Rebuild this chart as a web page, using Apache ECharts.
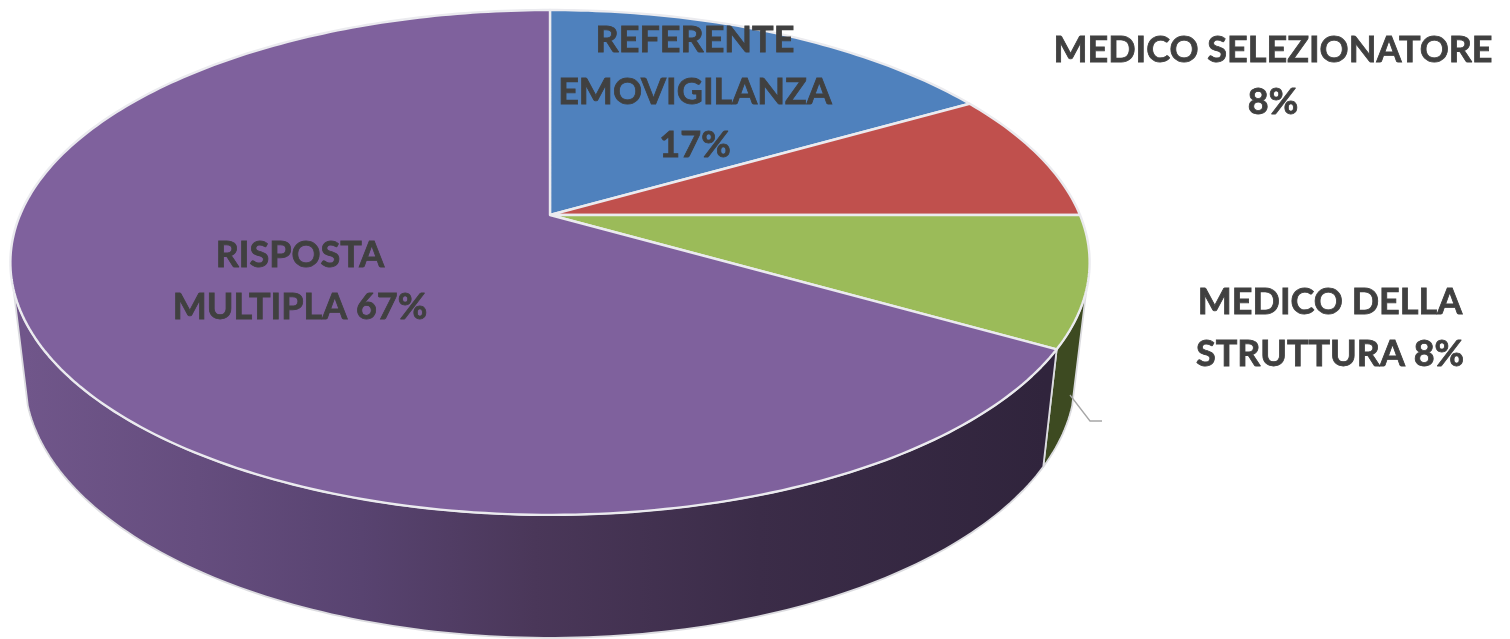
<!DOCTYPE html>
<html><head><meta charset="utf-8">
<style>html,body{margin:0;padding:0;background:#fff}#c{width:1510px;height:639px;filter:blur(0.45px)}</style>
<script src="https://cdn.jsdelivr.net/npm/echarts@6/dist/echarts.min.js"></script>
</head><body><div id="c"></div>
<script>
// Data
const categories = ['REFERENTE EMOVIGILANZA', 'MEDICO SELEZIONATORE', 'MEDICO DELLA STRUTTURA', 'RISPOSTA MULTIPLA'];
const shares = [16.67, 8.33, 8.33, 66.67];
const labelLines = [['REFERENTE', 'EMOVIGILANZA', '17%'], ['MEDICO SELEZIONATORE', '8%'], ['MEDICO DELLA', 'STRUTTURA 8%'], ['RISPOSTA', 'MULTIPLA 67%']];

// Style and layout
const topColors = ['#4f81bd', '#c0504d', '#9bbb59', '#7f619d'];
const labelAnchors = [[695, 40], [1273, 50], [1330, 302], [300, 255]];
const linePitch = 52.5;
const topDisc = {cx: 550, cy: 215, rx: 530, ry: 243.5, k: 0.188};
const lowDisc = {cx: 550, cy: 328, rx: 516, ry: 251.6, k: 0.188};
const wallFrom = 107, wallTo = 253;
const leader = [[1070, 395], [1090, 421], [1102, 421]];

const total = shares.reduce((a, b) => a + b, 0);
function sliceRange(i) {
  let s = 0;
  for (let j = 0; j < i; j++) s += shares[j];
  return [s / total * 360, (s + shares[i]) / total * 360];
}
function project(d, deg) {
  const t = deg * Math.PI / 180, X = Math.sin(t), Y = -Math.cos(t), w = 1 / (1 - d.k * Y);
  return [d.cx + d.rx * X * w, d.cy + d.ry * Y * w];
}
function arc(d, a, b) {
  const n = Math.max(2, Math.ceil(Math.abs(b - a))), pts = [];
  for (let i = 0; i <= n; i++) pts.push(project(d, a + (b - a) * i / n));
  return pts;
}
const wallFill = (i) => i === 2 ? '#3d4a21' : new echarts.graphic.LinearGradient(25, 0, 1045, 0, [
  {offset: 0, color: '#70568a'}, {offset: 0.17, color: '#654d7e'}, {offset: 0.33, color: '#584370'},
  {offset: 0.5, color: '#4a3759'}, {offset: 0.72, color: '#3b2c48'}, {offset: 1, color: '#30243c'}
], true);

function renderWall(params, api) {
  const i = api.value(1), [a, b] = sliceRange(i);
  const s = Math.max(a, wallFrom), e = Math.min(b, wallTo);
  if (e <= s) return {type: 'group', children: []};
  return {type: 'polygon', shape: {points: arc(topDisc, s, e).concat(arc(lowDisc, e, s))},
    style: {fill: wallFill(i), stroke: '#dcdce0', lineWidth: 1.8, lineJoin: 'round'}};
}
function renderTop(params, api) {
  const i = api.value(1), [a, b] = sliceRange(i);
  return {type: 'polygon', shape: {points: [[topDisc.cx, topDisc.cy]].concat(arc(topDisc, a, b))},
    style: {fill: topColors[i], stroke: '#ebebef', lineWidth: 2.4, lineJoin: 'round'}};
}
function renderLabel(params, api) {
  const i = api.value(1), [x, y] = labelAnchors[i];
  return {type: 'group', children: labelLines[i].map((t, n) => ({
    type: 'text', style: {text: t, x: x, y: y + n * linePitch, align: 'center', verticalAlign: 'middle',
      fill: '#404040', stroke: '#404040', lineWidth: 0.8, font: 'bold 36px Lato, Carlito, sans-serif'}
  }))};
}
const rows = shares.map((v, i) => ({name: categories[i], value: [v, i]}));
const chart = echarts.init(document.getElementById('c'), null, {renderer: 'canvas'});
chart.setOption({
  animation: false,
  backgroundColor: '#fff',
  series: [
    {type: 'custom', coordinateSystem: 'none', silent: true, z: 1, renderItem: renderWall, data: rows},
    {type: 'custom', coordinateSystem: 'none', silent: true, z: 2, renderItem: renderTop, data: rows},
    {type: 'custom', coordinateSystem: 'none', silent: true, z: 3, renderItem: renderLabel, data: rows}
  ],
  graphic: [{type: 'polyline', z: 4, shape: {points: leader}, style: {stroke: '#a6a6a6', lineWidth: 1.3, fill: null}}]
});
</script></body></html>
